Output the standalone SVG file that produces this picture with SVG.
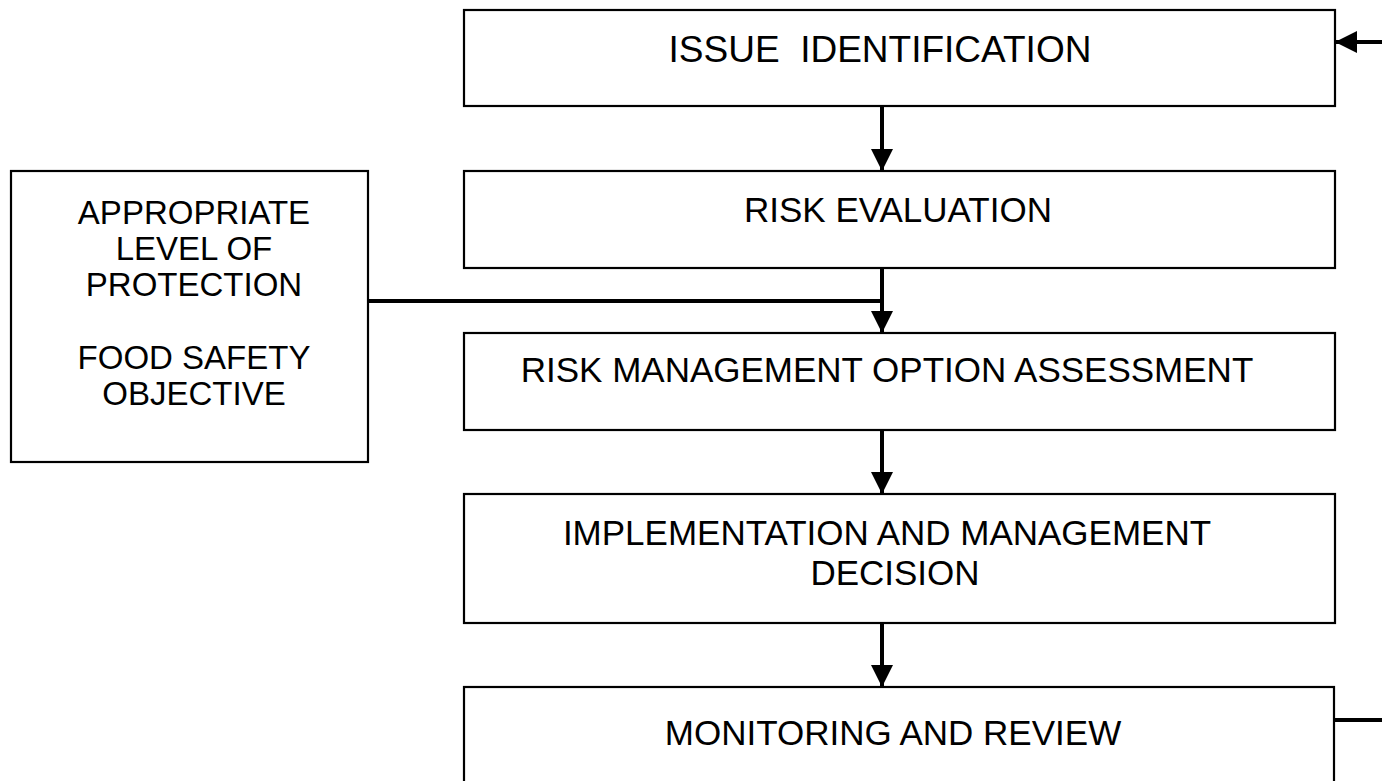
<svg xmlns="http://www.w3.org/2000/svg" width="1382" height="781" viewBox="0 0 1382 781">
<style>
.box{fill:#fff;stroke:#000;stroke-width:2.2}
.t{font-family:"Liberation Sans",Arial,sans-serif;font-size:35px;fill:#000;white-space:pre}
.big{font-size:37px}
.sm{font-size:33px}
.c{stroke:#000;stroke-width:4;fill:none}
</style>
<defs>
<marker id="ah" markerUnits="userSpaceOnUse" markerWidth="22" markerHeight="22" viewBox="0 0 22 22" refX="22" refY="11" orient="auto">
<path d="M0,0 L22,11 L0,22 Z" fill="#000"/>
</marker>
</defs>
<rect width="1382" height="781" fill="#fff"/>
<g id="n-issue">
<rect class="box" x="464" y="10" width="871" height="96"/>
<text class="t big" x="880" y="62" text-anchor="middle">ISSUE  IDENTIFICATION</text>
</g>
<g id="n-risk-eval">
<rect class="box" x="464" y="171" width="871" height="97"/>
<text class="t" x="898" y="222" text-anchor="middle">RISK EVALUATION</text>
</g>
<g id="n-alop">
<rect class="box" x="11" y="171" width="357" height="291"/>
<text class="t sm" x="194" y="224" text-anchor="middle">APPROPRIATE</text>
<text class="t sm" x="194" y="260" text-anchor="middle">LEVEL OF</text>
<text class="t sm" x="194" y="296" text-anchor="middle">PROTECTION</text>
<text class="t sm" x="194" y="369" text-anchor="middle">FOOD SAFETY</text>
<text class="t sm" x="194" y="405" text-anchor="middle">OBJECTIVE</text>
</g>
<g id="n-rmoa">
<rect class="box" x="464" y="333" width="871" height="97"/>
<text class="t" x="887" y="382" text-anchor="middle">RISK MANAGEMENT OPTION ASSESSMENT</text>
</g>
<g id="n-impl">
<rect class="box" x="464" y="494" width="871" height="129"/>
<text class="t" x="887" y="545" text-anchor="middle">IMPLEMENTATION AND MANAGEMENT</text>
<text class="t" x="895" y="585" text-anchor="middle">DECISION</text>
</g>
<g id="n-monitor">
<rect class="box" x="464" y="687" width="870" height="120"/>
<text class="t" x="893" y="745" text-anchor="middle">MONITORING AND REVIEW</text>
</g>
<g id="connectors">
<line class="c" x1="882" y1="106" x2="882" y2="171" marker-end="url(#ah)"/>
<line class="c" x1="882" y1="268" x2="882" y2="333" marker-end="url(#ah)"/>
<polyline class="c" points="368,301 882,301"/>
<line class="c" x1="882" y1="430" x2="882" y2="494" marker-end="url(#ah)"/>
<line class="c" x1="882" y1="623" x2="882" y2="687" marker-end="url(#ah)"/>
<line class="c" x1="1382" y1="42" x2="1335" y2="42" marker-end="url(#ah)"/>
<line class="c" x1="1334" y1="720" x2="1382" y2="720"/>
</g>
</svg>
